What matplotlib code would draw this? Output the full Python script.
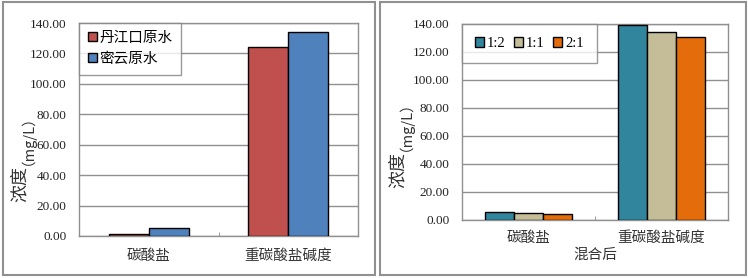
import numpy as np
import matplotlib

matplotlib.use("Agg")
import matplotlib.pyplot as plt
from matplotlib.patches import Rectangle

plt.rcParams["font.family"] = ["Liberation Serif", "Noto Sans CJK SC", "DejaVu Sans"]

categories = ["碳酸盐", "重碳酸盐碱度"]

raw_names = ["丹江口原水", "密云原水"]
raw_values = [[1.0, 124.0], [5.0, 134.3]]
raw_colors = ["#C0504D", "#4F81BD"]

mix_names = ["1:2", "1:1", "2:1"]
mix_values = [[5.5, 139.0], [4.8, 134.0], [4.5, 130.4]]
mix_colors = ["#31859C", "#C4BD97", "#E46C0A"]

yticks = np.arange(0, 141, 20)

W, H = 748, 278
fig = plt.figure(figsize=(W / 100, H / 100), dpi=100)


def px(x0, y0, x1, y1):
    # pixel box (top-left origin) -> figure fraction rect
    return [x0 / W, 1 - y1 / H, (x1 - x0) / W, (y1 - y0) / H]


def panel(rect, names, values, colors, width, ncol, cat_pad, bpad, xlabel=None):
    ax = fig.add_axes(rect)
    x = np.arange(len(categories))
    n = len(names)
    for i, (name, vals, c) in enumerate(zip(names, values, colors)):
        off = (i - (n - 1) / 2) * width
        ax.bar(x + off, vals, width, color=c, edgecolor="black", linewidth=1.0,
               label=name, zorder=3)
    ax.set_xlim(-0.5, len(categories) - 0.5)
    ax.set_ylim(0, 140)
    ax.set_yticks(yticks)
    ax.set_yticklabels([f"{v:.2f}" for v in yticks], fontsize=9.5, color="#222222")
    ax.tick_params(axis="y", length=0, pad=9)
    ax.set_xticks(x)
    ax.set_xticklabels(categories, fontsize=10.5, color="#333333",
                       family=["Noto Sans CJK SC"])
    ax.tick_params(axis="x", length=0, pad=cat_pad)
    ax.set_xticks([0.5], minor=True)
    ax.tick_params(axis="x", which="minor", direction="in", length=3, color="#888888")
    ax.grid(axis="y", color="#909090", linewidth=1.0, zorder=0)
    for s in ax.spines.values():
        s.set_color("#909090")
        s.set_linewidth(1.0)
    leg = ax.legend(loc="upper left", ncol=ncol, frameon=True,
                    fancybox=False, borderaxespad=0, handlelength=0.6, handleheight=0.6,
                    handletextpad=0.2, columnspacing=0.6, borderpad=bpad,
                    prop={"family": ["Liberation Serif", "Noto Sans CJK SC"], "size": 10.5})
    leg.get_frame().set_edgecolor("#808080")
    leg.get_frame().set_linewidth(1.0)
    if xlabel:
        ax.set_xlabel(xlabel, fontsize=10.5, color="#333333", family=["Noto Sans CJK SC"],
                      labelpad=2)
    return ax


panel(px(79, 23, 358, 236), raw_names, raw_values, raw_colors, 0.287, 1, 9, 0.6)
panel(px(462, 24, 728, 220), mix_names, mix_values, mix_colors, 0.22, 3, 8, 0.9, "混合后")

# y labels: large 浓度 and smaller (mg/L)
for xl, yb in [(20, 202), (398, 188)]:
    fig.text(xl / W, 1 - yb / H, "浓度", rotation=90, fontsize=13, ha="center", va="bottom",
             family=["Noto Sans CJK SC"], color="#333333")
    fig.text(xl / W, 1 - (yb - 37) / H, "（mg/L）", rotation=90, fontsize=10.5, ha="center",
             va="bottom", family=["Noto Sans CJK SC"], color="#333333")

# panel frames
for x0, x1 in [(3, 375), (380, 746)]:
    fig.patches.append(Rectangle((x0 / W, 3 / H), (x1 - x0) / W, (276 - 3) / H,
                                 transform=fig.transFigure, fill=False,
                                 edgecolor="#909090", linewidth=1.5))

fig.savefig("out.png", dpi=100)
